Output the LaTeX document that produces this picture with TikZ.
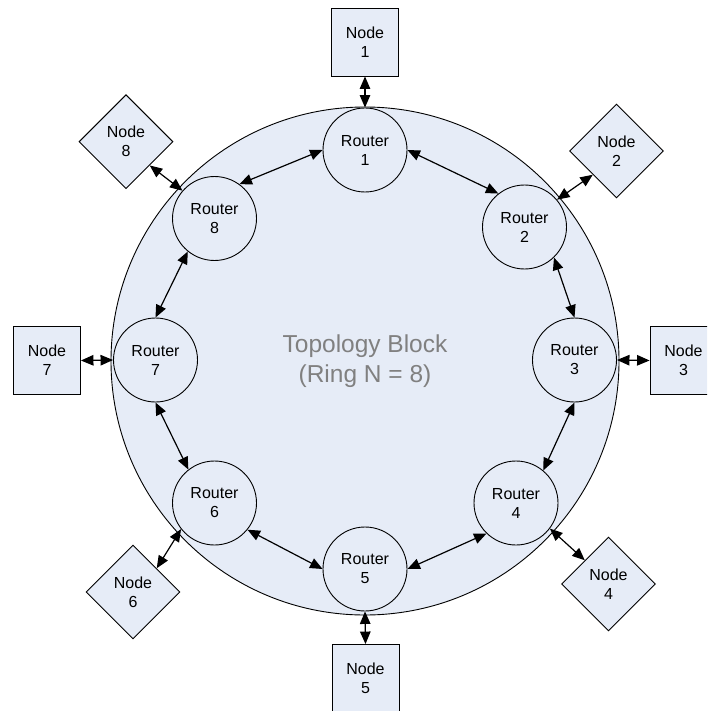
\documentclass[tikz,border=0pt]{standalone}
\usepackage{fontspec}
\setmainfont{Liberation Sans}
\usetikzlibrary{shapes.geometric,arrows.meta}

\definecolor{blockfill}{RGB}{230,236,247}
\definecolor{labelgray}{RGB}{128,128,128}

\tikzset{
  router/.style={circle, draw=black, line width=0.9pt, fill=blockfill,
    minimum size=84pt, inner sep=0pt, align=center,
    font=\fontsize{16}{19}\selectfont},
  endbox/.style={rectangle, draw=black, line width=0.9pt, fill=blockfill,
    minimum width=67pt, minimum height=68pt, inner sep=0pt, align=center,
    font=\fontsize{16}{19}\selectfont},
  enddiamond/.style={diamond, aspect=1, draw=black, line width=0.9pt, fill=blockfill,
    minimum width=94pt, minimum height=94pt, inner sep=0pt, align=center,
    font=\fontsize{16}{19}\selectfont},
  link/.style={line width=1.2pt,
    {Triangle[length=12.5pt,width=10.5pt]}-{Triangle[length=12.5pt,width=10.5pt]}}
}

\begin{document}
\begin{tikzpicture}[x=1pt,y=-1pt]
  \useasboundingbox (0,0) rectangle (707,711);
  \clip (0,0) rectangle (707,711);

  % topology block
  \node[circle, draw=black, line width=0.9pt, fill=blockfill,
        minimum size=508pt, inner sep=0pt] (block) at (365,361) {};
  \node[text=labelgray, align=center, font=\fontsize{24.5}{30}\selectfont]
        (title) at (365,361) {Topology Block\\(Ring N = 8)};

  % routers on the ring
  \node[router] (r1) at (365,150)   {Router\\1};
  \node[router] (r2) at (524.5,227) {Router\\2};
  \node[router] (r3) at (574.5,360) {Router\\3};
  \node[router] (r4) at (516,503)   {Router\\4};
  \node[router] (r5) at (365,569)   {Router\\5};
  \node[router] (r6) at (214.5,503) {Router\\6};
  \node[router] (r7) at (155.5,360) {Router\\7};
  \node[router] (r8) at (214.5,218.5) {Router\\8};

  % end nodes
  \node[endbox]     (n1) at (365,42)      {Node\\1};
  \node[enddiamond] (n2) at (616.5,151)   {Node\\2};
  \node[endbox]     (n3) at (683.5,360.5) {Node\\3};
  \node[enddiamond] (n4) at (608.5,584)   {Node\\4};
  \node[endbox]     (n5) at (365.5,678.5) {Node\\5};
  \node[enddiamond] (n6) at (133,592)     {Node\\6};
  \node[endbox]     (n7) at (47,360.5)    {Node\\7};
  \node[enddiamond] (n8) at (126,141.7)   {Node\\8};

  % ring links
  \draw[link] (r1.east)  -- (r2.128);
  \draw[link] (r2.-46)   -- (r3.north);
  \draw[link] (r3.south) -- (r4.50);
  \draw[link] (r4.226)   -- (r5.east);
  \draw[link] (r5.west)  -- (r6.-39);
  \draw[link] (r6.128)   -- (r7.south);
  \draw[link] (r7.north) -- (r8.231);
  \draw[link] (r8.54)    -- (r1.west);

  % router to node links
  \draw[link] (r1.north) -- (n1.south);
  \draw[link] (r2.40)    -- (n2.south west);
  \draw[link] (r3.east)  -- (n3.west);
  \draw[link] (r4.-37)   -- (n4.north west);
  \draw[link] (r5.south) -- (n5.north);
  \draw[link] (r6.218)   -- (n6.north east);
  \draw[link] (r7.west)  -- (n7.east);
  \draw[link] (r8.139)   -- (n8.south east);
\end{tikzpicture}
\end{document}
